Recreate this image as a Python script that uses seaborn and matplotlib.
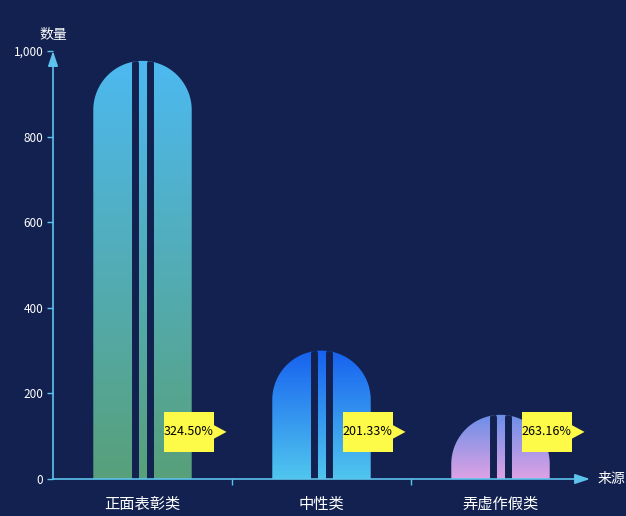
import numpy as np
import matplotlib
matplotlib.use("Agg")
import matplotlib.pyplot as plt
import seaborn as sns
from matplotlib.path import Path
from matplotlib.patches import PathPatch, Rectangle, Polygon
from matplotlib.colors import LinearSegmentedColormap

# data
categories = ["正面表彰类", "中性类", "弄虚作假类"]
values = [977, 300, 150]
rates = ["324.50%", "201.33%", "263.16%"]
yticks = [0, 200, 400, 600, 800, 1000]
ytick_labels = ["0", "200", "400", "600", "800", "1,000"]

# gradient colours (bottom -> top) per bar
grads = [("#58a07a", "#4db9f1"), ("#50c6ee", "#1761f0"), ("#dea2e4", "#6a8ee8")]

bg = "#12214f"
axis_col = "#5ec3ec"

sns.set_style("dark")
plt.rcParams['font.family'] = ['Noto Sans CJK SC', 'DejaVu Sans']

fig = plt.figure(figsize=(6.26, 5.16), dpi=100, facecolor=bg)
W, H = 626, 516
ax = fig.add_axes([53 / W, 37 / H, 537 / W, 428 / H], facecolor=bg)

df = {"cat": categories, "val": values}
sns.barplot(x="cat", y="val", data=df, width=0.55, color="white", ax=ax)

ax.set_xlim(-0.5, 2.5)
ax.set_ylim(0, 1000)

# pixel -> data sizes
px_x = 3 / 537
px_y = 1000 / 428

for i, p in enumerate(ax.patches):
    x0, w, h = p.get_x(), p.get_width(), p.get_height()
    p.set_alpha(0)
    cx = x0 + w / 2
    rx = w / 2
    ry = rx / px_x * px_y
    base = h - ry
    t = np.linspace(np.pi, 0, 80)
    verts = [(x0, 0), (x0, base)]
    verts += list(zip(cx + rx * np.cos(t), base + ry * np.sin(t)))
    verts += [(x0 + w, 0), (x0, 0)]
    codes = [Path.MOVETO] + [Path.LINETO] * (len(verts) - 2) + [Path.CLOSEPOLY]
    shape = PathPatch(Path(verts, codes), fc="none", ec="none")
    ax.add_patch(shape)

    cmap = LinearSegmentedColormap.from_list("g%d" % i, grads[i])
    grad = np.linspace(0, 1, 256).reshape(-1, 1)
    im = ax.imshow(grad, cmap=cmap, extent=(x0, x0 + w, 0, h), origin="lower",
                   aspect="auto", zorder=2)
    im.set_clip_path(shape)

    # two dark stripes
    dx = 7.5 * px_x
    for s in (-dx, dx):
        top = base + ry * np.sqrt(1 - (s / rx) ** 2) - 1.5 * px_y
        ln, = ax.plot([cx + s, cx + s], [0, top], color=bg, lw=5.0,
                      solid_capstyle="round", zorder=3)
        ln.set_clip_path(shape)

    # yellow label with arrow
    ly = 110
    bx = cx + 21 * px_x
    bw = 50 * px_x
    bh = 40 * px_y
    ax.add_patch(Rectangle((bx, ly - bh / 2), bw, bh, fc="#fdfb47", ec="none", zorder=4))
    ax.add_patch(Polygon([(bx + bw, ly + 7 * px_y), (bx + bw + 13 * px_x, ly),
                          (bx + bw, ly - 7 * px_y)], closed=True, fc="#fdfb47",
                         ec="none", zorder=4))
    ax.text(bx + bw / 2, ly, rates[i], ha="center", va="center", fontsize=9,
            color="black", zorder=5)

ax.set_xlim(-0.5, 2.5)
ax.set_ylim(0, 1000)

for sp in ax.spines.values():
    sp.set_visible(False)
ax.grid(False)

# axes with arrows
ax.annotate("", xy=(0, 1.0), xytext=(0, 0), xycoords="axes fraction",
            arrowprops=dict(arrowstyle="-|>,head_length=0.9,head_width=0.3",
                            color=axis_col, lw=1.2, shrinkA=0, shrinkB=0), zorder=6)
ax.annotate("", xy=(1.0, 0), xytext=(0, 0), xycoords="axes fraction",
            arrowprops=dict(arrowstyle="-|>,head_length=0.9,head_width=0.3",
                            color=axis_col, lw=1.2, shrinkA=0, shrinkB=0), zorder=6)

ax.set_yticks(yticks)
ax.set_yticklabels(ytick_labels)
ax.tick_params(axis="y", colors="white", labelsize=8.5, length=4, width=1,
               color=axis_col, pad=3, left=True)
ax.set_xticks(range(len(categories)))
ax.set_xticklabels(categories)
ax.set_xticks([0.5, 1.5], minor=True)
ax.tick_params(axis="x", which="major", length=0, colors="white", labelsize=11, pad=12)
ax.tick_params(axis="x", which="minor", length=4, width=1, color=axis_col, bottom=True)
for lab in ax.get_xticklabels() + ax.get_yticklabels():
    lab.set_fontweight("medium")
ax.set_xlabel("")
ax.set_ylabel("")

ax.text(0, 1.037, "数量", transform=ax.transAxes, ha="center", va="center",
        fontsize=10, color="white", fontweight="medium")
ax.text(1 + 8 / 537, 0, "来源", transform=ax.transAxes, ha="left", va="center",
        fontsize=10, color="white", fontweight="medium")

fig.savefig("out.png", dpi=100, facecolor=bg)
